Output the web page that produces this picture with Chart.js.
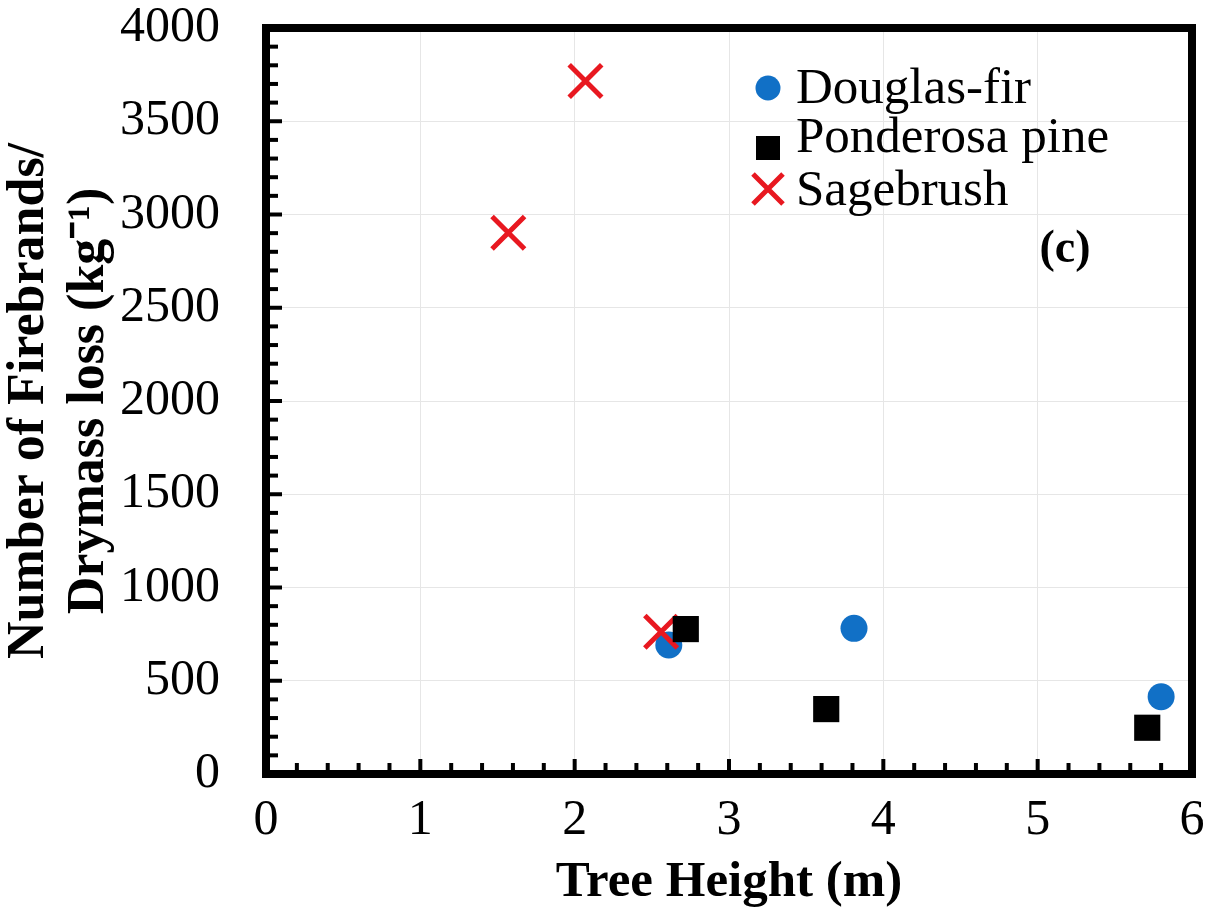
<!DOCTYPE html>
<html>
<head>
<meta charset="utf-8">
<script src="https://cdn.jsdelivr.net/npm/chart.js@4.4.0/dist/chart.umd.min.js"></script>
<style>
  html, body { margin: 0; padding: 0; background: #fff; }
</style>
</head>
<body>
<canvas id="myChart" width="1212" height="919"></canvas>
<script>
// values
const seriesNames = ["Douglas-fir", "Ponderosa pine", "Sagebrush"];
const douglasX = [2.61, 3.81, 5.80];
const douglasY = [692, 781, 414];
const ponderosaX = [2.72, 3.63, 5.71];
const ponderosaY = [777, 348, 248];
const sageX = [2.56, 1.57, 2.07];
const sageY = [763, 2902, 3716];
const xTicks = [0, 1, 2, 3, 4, 5, 6];
const yTicks = [0, 500, 1000, 1500, 2000, 2500, 3000, 3500, 4000];

const toPoints = (xs, ys) => xs.map((x, i) => ({x: x, y: ys[i]}));

const blue = '#1170C6';
const red = 'rgb(232, 24, 32)';
const serif = "'Liberation Serif', 'Times New Roman', serif";

// frame, inward ticks, legend and panel label
const decorations = {
    id: 'decorations',
    beforeDatasetsDraw(chart) {
        const ctx = chart.ctx;
        const a = chart.chartArea;
        const xs = chart.scales.x, ys = chart.scales.y;
        ctx.save();
        ctx.strokeStyle = '#000';
        ctx.lineWidth = 4;
        // y ticks every 100, long ones every 500
        for (let v = 100; v < 4000; v += 100) {
            const py = ys.getPixelForValue(v);
            const len = (v % 500 === 0) ? 16 : 12;
            ctx.beginPath();
            ctx.moveTo(a.left, py);
            ctx.lineTo(a.left + len, py);
            ctx.stroke();
        }
        // x ticks every 0.2, long ones every 1
        for (let i = 1; i < 30; i++) {
            const v = i * 0.2;
            const px = xs.getPixelForValue(v);
            const len = (i % 5 === 0) ? 15 : 11;
            ctx.beginPath();
            ctx.moveTo(px, a.bottom);
            ctx.lineTo(px, a.bottom - len);
            ctx.stroke();
        }
        ctx.lineWidth = 8;
        ctx.strokeRect(a.left, a.top, a.right - a.left, a.bottom - a.top);
        ctx.restore();
    },
    afterDraw(chart) {
        const ctx = chart.ctx;
        ctx.save();
        ctx.font = "51px " + serif;
        ctx.fillStyle = '#000';
        ctx.textBaseline = 'alphabetic';
        ctx.textAlign = 'left';
        const rows = [103, 152, 205];
        const mx = 768, tx = 796;
        // circle
        ctx.fillStyle = blue;
        ctx.beginPath();
        ctx.arc(mx, 88, 12.5, 0, Math.PI * 2);
        ctx.fill();
        // square
        ctx.fillStyle = '#000';
        ctx.fillRect(mx - 12, 136, 24, 24);
        // cross
        ctx.strokeStyle = red;
        ctx.lineWidth = 5;
        ctx.beginPath();
        ctx.moveTo(mx - 15, 174); ctx.lineTo(mx + 15, 204);
        ctx.moveTo(mx + 15, 174); ctx.lineTo(mx - 15, 204);
        ctx.stroke();
        ctx.fillStyle = '#000';
        seriesNames.forEach((n, i) => ctx.fillText(n, tx, rows[i]));
        ctx.font = "bold 46px " + serif;
        ctx.textAlign = 'center';
        ctx.textBaseline = 'middle';
        ctx.fillText('(c)', 1065, 250);
        ctx.restore();
    }
};

const ctx = document.getElementById('myChart');
const myChart = new Chart(ctx, {
    type: 'scatter',
    data: {
        datasets: [{
            label: seriesNames[0],
            data: toPoints(douglasX, douglasY),
            pointStyle: 'circle',
            pointRadius: 13.5,
            pointBackgroundColor: blue,
            pointBorderWidth: 0,
            order: 3
        }, {
            label: seriesNames[1],
            data: toPoints(ponderosaX, ponderosaY),
            pointStyle: 'rect',
            pointRadius: 18.5,
            pointBackgroundColor: '#000',
            pointBorderWidth: 0,
            order: 1
        }, {
            label: seriesNames[2],
            data: toPoints(sageX, sageY),
            pointStyle: 'crossRot',
            pointRadius: 23,
            pointBorderColor: red,
            pointBorderWidth: 5,
            order: 2
        }]
    },
    options: {
        responsive: false,
        animation: false,
        devicePixelRatio: 1,
        layout: {
            autoPadding: false,
            padding: {top: 28, right: 20, left: 0, bottom: 0}
        },
        scales: {
            x: {
                type: 'linear',
                min: 0,
                max: 6,
                afterBuildTicks: (s) => { s.ticks = xTicks.map(v => ({value: v})); },
                afterFit: (s) => { s.height = 145; s.paddingLeft = 0; s.paddingRight = 0; },
                ticks: {
                    color: '#000',
                    padding: 17,
                    font: {family: serif, size: 50},
                    callback: (v) => String(v)
                },
                grid: {
                    color: '#e6e6e6',
                    lineWidth: 1,
                    drawTicks: false
                },
                border: {display: false},
                title: {
                    display: true,
                    text: 'Tree Height (m)',
                    color: '#000',
                    font: {family: serif, size: 51, weight: 'bold'},
                    padding: {top: 4, bottom: 6}
                }
            },
            y: {
                type: 'linear',
                min: 0,
                max: 4000,
                afterBuildTicks: (s) => { s.ticks = yTicks.map(v => ({value: v})); },
                afterFit: (s) => { s.width = 266; s.paddingTop = 0; s.paddingBottom = 0; },
                ticks: {
                    color: '#000',
                    padding: 46,
                    font: {family: serif, size: 50},
                    callback: (v) => String(v)
                },
                grid: {
                    color: '#e6e6e6',
                    lineWidth: 1,
                    drawTicks: false
                },
                border: {display: false},
                title: {
                    display: true,
                    text: ['Number of Firebrands/', 'Drymass loss (kg\u207B\u00B9)'],
                    color: '#000',
                    font: {family: serif, size: 52, weight: 'bold', lineHeight: 1.15},
                    padding: {top: 0, bottom: 0}
                }
            }
        },
        plugins: {
            legend: {display: false},
            tooltip: {enabled: false}
        }
    },
    plugins: [decorations]
});
</script>
</body>
</html>
